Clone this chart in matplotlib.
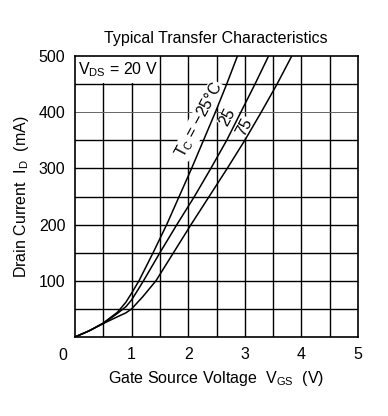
import matplotlib
matplotlib.use("Agg")
import matplotlib.pyplot as plt
from matplotlib.patches import Rectangle

plt.rcParams['font.family'] = ['Liberation Sans', 'DejaVu Sans']
plt.rcParams['mathtext.fontset'] = 'custom'
plt.rcParams['mathtext.rm'] = 'Liberation Sans'
plt.rcParams['mathtext.it'] = 'Liberation Sans:italic'
plt.rcParams['mathtext.default'] = 'regular'

# Data (VGS in V, ID in mA)
vgs_m25 = [0.0, 0.25, 0.5, 0.75, 0.9, 1.0, 1.13, 1.38, 1.62, 1.84, 2.06, 2.27, 2.48, 2.68, 2.87]
id_m25 = [0, 11, 25, 44, 62, 78, 100, 150, 200, 250, 300, 350, 400, 450, 500]
vgs_25 = [0.0, 0.25, 0.5, 0.75, 0.9, 1.0, 1.1, 1.21, 1.50, 1.80, 2.11, 2.40, 2.68, 2.93, 3.18, 3.42]
id_25 = [0, 11, 24, 42, 54, 66, 82, 100, 150, 200, 250, 300, 350, 400, 450, 500]
vgs_75 = [0.0, 0.25, 0.5, 0.75, 0.9, 1.0, 1.2, 1.43, 1.74, 2.05, 2.37, 2.69, 3.00, 3.29, 3.57, 3.83]
id_75 = [0, 11, 24, 36, 43, 50, 72, 100, 150, 200, 250, 300, 350, 400, 450, 500]

x_ticks = [1, 2, 3, 4, 5]
y_ticks = [100, 200, 300, 400, 500]

FS = 11.5

fig = plt.figure(figsize=(3.88, 4.16), dpi=100)
ax = fig.add_axes([75/388, 1-337/416, 283/388, 281/416])
ax.set_xlim(0, 5)
ax.set_ylim(0, 500)

# grid
for xv in [0.5*i for i in range(1, 10)]:
    ax.axvline(xv, color='black', lw=1.0, zorder=1)
for yv in [50*i for i in range(1, 10)]:
    if yv == 400:
        ax.axhline(yv, color='#666666', lw=0.7, zorder=1)
    else:
        ax.axhline(yv, color='black', lw=1.0, zorder=1)

ax.add_patch(Rectangle((0.0, 452), 1.48, 50, facecolor='white', edgecolor='none', zorder=1.5))
ax.text(0.05, 476, r'V$_{DS}$ = 20 V', fontsize=FS, ha='left', va='center', zorder=2)

for v, i in [(vgs_m25, id_m25), (vgs_25, id_25), (vgs_75, id_75)]:
    ax.plot(v, i, color='black', lw=1.1, zorder=3, solid_joinstyle='round')

bb = dict(facecolor='white', edgecolor='none', pad=0.3)
rot = 62
ax.text(2.20, 386, r'T$_C$ = $-$25°C', rotation=rot, fontsize=FS, ha='center', va='center',
        rotation_mode='anchor', bbox=bb, zorder=2.5)
ax.text(2.70, 391, '25', rotation=rot, fontsize=FS, ha='center', va='center',
        rotation_mode='anchor', bbox=bb, zorder=2.5)
ax.text(3.00, 374, '75', rotation=rot, fontsize=FS, ha='center', va='center',
        rotation_mode='anchor', bbox=bb, zorder=2.5)

ax.set_xticks(x_ticks)
ax.set_yticks(y_ticks)
ax.set_xticklabels([str(t) for t in x_ticks])
ax.set_yticklabels([str(t) for t in y_ticks])
ax.tick_params(length=0, labelsize=FS, pad=7)
ax.text(-12/283, -18/281, '0', transform=ax.transAxes, fontsize=FS, ha='center', va='center')

for s in ax.spines.values():
    s.set_linewidth(1.2)
    s.set_zorder(4)

fig.text(216/388, 1-38/416, 'Typical Transfer Characteristics', fontsize=FS, ha='center', va='center')
fig.text(216/388, 1-378/416, r'Gate Source Voltage  V$_{GS}$  (V)', fontsize=FS, ha='center', va='center')
fig.text(22/388, 1-197/416, r'Drain Current  I$_D$  (mA)', fontsize=FS, ha='center', va='center', rotation=90)

fig.savefig('out.png', dpi=100)
